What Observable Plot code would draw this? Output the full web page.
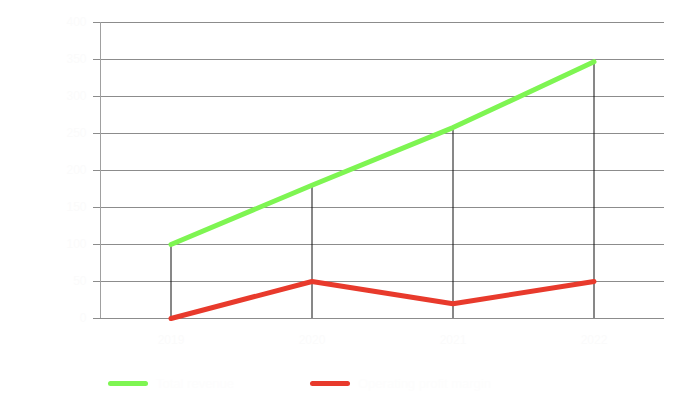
<!DOCTYPE html>
<html>
<head>
<meta charset="utf-8">
<script src="https://cdn.jsdelivr.net/npm/d3@7"></script>
<script src="https://cdn.jsdelivr.net/npm/@observablehq/plot@0.6"></script>
<style>
  body { margin: 0; background: #fff; font-family: "Liberation Sans", Arial, sans-serif; }
  #legend { position: relative; height: 53px; width: 687px; }
  .item { position: absolute; top: 16px; display: flex; align-items: center; font-size: 13px; color: #fdfdfd; }
  .sw { width: 40px; height: 5px; border-radius: 3px; margin-right: 8px; }
</style>
</head>
<body>
<div id="chart"></div>
<div id="legend"></div>
<script>
const categories = ["2019", "2020", "2021", "2022"];
const greenValues = [100, 180, 258, 347];
const redValues = [0, 50, 20, 50];
const yTicks = [0, 50, 100, 150, 200, 250, 300, 350, 400];
const seriesNames = ["Total revenue", "Operating profit margin"];
const seriesColors = ["#7ef552", "#e83a2c"];

const data = categories.map((c, i) => ({i, c, g: greenValues[i], r: redValues[i]}));
const x0 = -0.5, x1 = categories.length - 0.5;

const chart = Plot.plot({
  width: 687,
  height: 360,
  marginTop: 22,
  marginBottom: 42,
  marginLeft: 100,
  marginRight: 23,
  style: {background: "#fff", fontFamily: "Liberation Sans, Arial, sans-serif", fontSize: "12px"},
  x: {type: "linear", domain: [x0, x1], axis: null},
  y: {type: "linear", domain: [0, 400], axis: null},
  marks: [
    Plot.ruleY(yTicks, {y: d => d, x1: x0, x2: x1, insetLeft: -7, stroke: "#8c8c8c", strokeWidth: 1}),
    Plot.ruleX([x0], {x: d => d, y1: 0, y2: 400, stroke: "#a0a0a0", strokeWidth: 1}),
    Plot.text(yTicks, {x: x0, y: d => d, text: d => String(d), textAnchor: "end", dx: -14, fill: "#fbfbfb"}),
    Plot.text(data, {x: "i", y: 0, text: "c", dy: 22, fill: "#fbfbfb"}),
    Plot.ruleX(data, {x: "i", y1: 0, y2: "g", stroke: "#111", strokeWidth: 1}),
    Plot.line(data, {x: "i", y: "g", stroke: seriesColors[0], strokeWidth: 5, strokeLinecap: "round"}),
    Plot.line(data, {x: "i", y: "r", stroke: seriesColors[1], strokeWidth: 5, strokeLinecap: "round"})
  ]
});
document.getElementById("chart").appendChild(chart);

const legend = document.getElementById("legend");
const lefts = [108, 310];
seriesNames.forEach((n, k) => {
  const it = document.createElement("div");
  it.className = "item";
  it.style.left = lefts[k] + "px";
  it.innerHTML = `<div class="sw" style="background:${seriesColors[k]}"></div><span>${n}</span>`;
  legend.appendChild(it);
});
</script>
</body>
</html>
